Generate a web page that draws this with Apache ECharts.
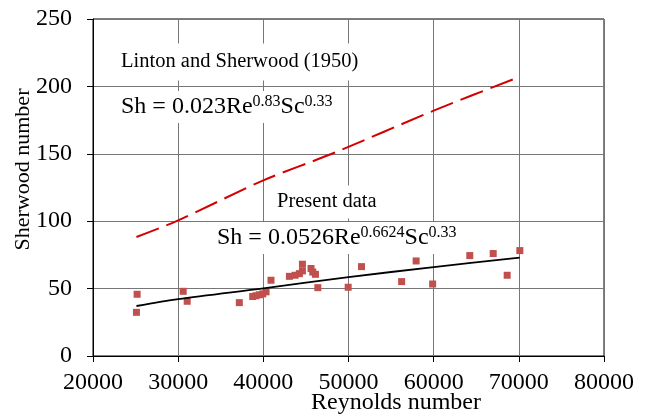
<!DOCTYPE html>
<html>
<head>
<meta charset="utf-8">
<script src="https://cdn.jsdelivr.net/npm/echarts@6/dist/echarts.min.js"></script>
<style>html,body{margin:0;padding:0;background:#fff}#c{width:651px;height:414px}</style>
</head>
<body>
<div id="c"></div>
<script>
// Present data (measured points)
var reynolds = [25100, 25180, 30590, 31060, 37180, 38750, 39140, 39530, 39930, 40320, 40900, 43060, 43730, 44230, 44590, 44590, 45600, 45800, 46120, 46400, 49960, 51530, 56240, 57940, 59880, 64240, 66990, 68630, 70120];
var sherwood = [32.4, 45.8, 48.0, 40.6, 39.6, 44.1, 44.7, 45.4, 46.1, 47.6, 56.2, 59.1, 59.9, 61.1, 68.1, 63.1, 64.9, 62.3, 60.6, 50.7, 51.0, 66.3, 55.2, 70.5, 53.4, 74.5, 76.0, 59.9, 78.2];
// Fit line of present data
var fitRe = [25100, 30000, 40000, 50000, 60000, 70100];
var fitSh = [37.1, 42.2, 50.2, 58.5, 66.0, 73.0];
// Linton and Sherwood (1950) line
var lintonRe = [25100, 29800, 40000, 48050, 60000, 70120];
var lintonSh = [88.3, 100, 130.3, 150, 182, 207.2];
// Axis ticks
var xTicks = [20000, 30000, 40000, 50000, 60000, 70000, 80000];
var yTicks = [0, 50, 100, 150, 200, 250];

function pairs(xs, ys) { return xs.map(function (v, i) { return [v, ys[i]]; }); }

var FF = 'Liberation Serif';
var chart = echarts.init(document.getElementById('c'));
chart.setOption({
  animation: false,
  backgroundColor: '#fff',
  textStyle: { fontFamily: FF },
  grid: { left: 93, right: 47, top: 19, bottom: 58, outerBoundsMode: 'none', show: true, borderColor: '#000', borderWidth: 1, backgroundColor: 'transparent' },
  xAxis: {
    type: 'value', min: xTicks[0], max: xTicks[xTicks.length - 1], interval: xTicks[1] - xTicks[0],
    name: 'Reynolds number', nameLocation: 'middle', nameGap: 35, nameMoveOverlap: false,
    nameTextStyle: { fontFamily: FF, fontSize: 24, color: '#000', padding: [0, 0, 0, 95] },
    axisLine: { lineStyle: { color: '#000', width: 1 } },
    axisTick: { show: true, inside: false, length: 6, lineStyle: { color: '#000' } },
    axisLabel: { fontFamily: FF, fontSize: 24, color: '#000', margin: 15, formatter: function (v) { return String(v); } },
    splitLine: { show: true, lineStyle: { color: '#777', width: 1 } }
  },
  yAxis: {
    type: 'value', min: yTicks[0], max: yTicks[yTicks.length - 1], interval: yTicks[1] - yTicks[0],
    name: 'Sherwood number', nameLocation: 'middle', nameGap: 59, nameRotate: 90, nameMoveOverlap: false,
    nameTextStyle: { fontFamily: FF, fontSize: 22, color: '#000', padding: [0, 0, 0, 36] },
    axisLine: { show: true, lineStyle: { color: '#000', width: 1 } },
    axisTick: { show: true, inside: false, length: 6, lineStyle: { color: '#000' } },
    axisLabel: { fontFamily: FF, fontSize: 24, color: '#000', margin: 21, formatter: function (v) { return String(v); } },
    splitLine: { show: true, lineStyle: { color: '#777', width: 1 } }
  },
  series: [
    { type: 'line', data: pairs(lintonRe, lintonSh), showSymbol: false, symbol: 'none', smooth: 0.3,
      lineStyle: { color: '#d40000', width: 2, type: [24, 8] } },
    { type: 'line', data: pairs(fitRe, fitSh), showSymbol: false, symbol: 'none', smooth: 0.3,
      lineStyle: { color: '#000', width: 1.8 } },
    { type: 'scatter', data: pairs(reynolds, sherwood), symbol: 'rect', symbolSize: 7,
      itemStyle: { color: '#c0504d', opacity: 1 } }
  ],
  graphic: [
    { type: 'text', x: 116, y: 62, z: 100,
      style: { text: 'Linton and Sherwood (1950)', fontFamily: FF, fontSize: 20.5, fill: '#000',
        verticalAlign: 'middle', align: 'left', backgroundColor: '#fff', padding: [8, 5] } },
    { type: 'text', x: 116, y: 107, z: 100,
      style: { text: 'Sh = 0.023Re{s|0.83}Sc{s|0.33}', fontFamily: FF, fontSize: 24, lineHeight: 26, fill: '#000',
        verticalAlign: 'middle', align: 'left', backgroundColor: '#fff', padding: [3, 5],
        rich: { s: { fontFamily: FF, fontSize: 16, lineHeight: 16, verticalAlign: 'top', fill: '#000' } } } },
    { type: 'text', x: 272, y: 202, z: 100,
      style: { text: 'Present data', fontFamily: FF, fontSize: 20.5, fill: '#000',
        verticalAlign: 'middle', align: 'left', backgroundColor: '#fff', padding: [6, 5] } },
    { type: 'text', x: 212, y: 238, z: 100,
      style: { text: 'Sh = 0.0526Re{s|0.6624}Sc{s|0.33}', fontFamily: FF, fontSize: 24, lineHeight: 26, fill: '#000',
        verticalAlign: 'middle', align: 'left', backgroundColor: '#fff', padding: [3, 5],
        rich: { s: { fontFamily: FF, fontSize: 16, lineHeight: 16, verticalAlign: 'top', fill: '#000' } } } }
  ]
});
</script>
</body>
</html>
